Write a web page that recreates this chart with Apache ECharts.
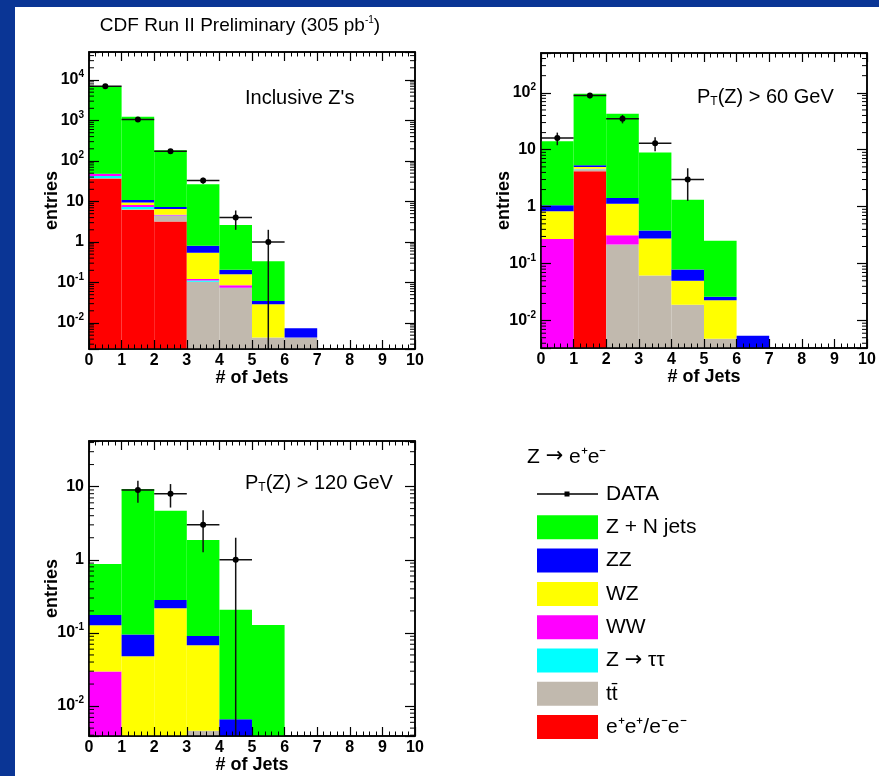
<!DOCTYPE html>
<html>
<head>
<meta charset="utf-8">
<script src="https://cdn.jsdelivr.net/npm/echarts@6/dist/echarts.min.js"></script>
<style>
html, body { margin: 0; padding: 0; background: #fff; }
#main { width: 879px; height: 776px; }
</style>
</head>
<body>
<div id="main"></div>
<script>
var chart_dom = document.getElementById("main");
var chart = echarts.init(chart_dom);
var font = "'Liberation Sans', Arial, Helvetica, sans-serif";

// processes, stacked bottom first
var procs = ["e⁺e⁺/e⁻e⁻", "tt\u0304", "Z → ττ", "WW", "WZ", "ZZ", "Z + N jets"];
var proc_colors = ['#ff0000', '#c1b9ae', '#00ffff', '#ff00ff', '#ffff00', '#0000ff', '#00ff00'];

// Inclusive Z's, entries per jet bin (0..9)
var incl_ss     = [37, 6.2, 3.2, 0, 0, 0, 0, 0, 0, 0];
var incl_tt     = [0.5, 0.2, 1.25, 0.105, 0.073, 0.0044, 0.0044, 0, 0, 0];
var incl_tautau = [5, 0.9, 0.05, 0.007, 0.001, 0, 0, 0, 0, 0];
var incl_ww     = [5, 0.9, 0.2, 0.01, 0.011, 0, 0, 0, 0, 0];
var incl_wz     = [0.3, 1.2, 1.85, 0.42, 0.075, 0.0246, 0, 0, 0, 0];
var incl_zz     = [0.3, 1.5, 0.8, 0.26, 0.045, 0.006, 0.003, 0, 0, 0];
var incl_zjets  = [6750, 1230, 178, 25.8, 2.43, 0.30, 0, 0, 0, 0];
var incl_data   = [6990, 1060, 174, 33, 4, 1, null, null, null, null];

// PT(Z) > 60 GeV
var pt60_ss     = [0, 4.2, 0, 0, 0, 0, 0, 0, 0, 0];
var pt60_tt     = [0, 0.35, 0.216, 0.062, 0.019, 0.0048, 0, 0, 0, 0];
var pt60_tautau = [0, 0.05, 0, 0, 0, 0, 0, 0, 0, 0];
var pt60_ww     = [0.27, 0.05, 0.1, 0, 0, 0, 0, 0, 0, 0];
var pt60_wz     = [0.56, 0.35, 0.81, 0.213, 0.031, 0.018, 0, 0, 0, 0];
var pt60_zz     = [0.23, 0.35, 0.3, 0.105, 0.0285, 0.0033, 0.0054, 0, 0, 0];
var pt60_zjets  = [13, 90.6, 41.6, 8.6, 1.25, 0.227, 0, 0, 0, 0];
var pt60_data   = [16, 90, 35, 13, 3, null, null, null, null, null];

// PT(Z) > 120 GeV
var pt120_ss     = [0, 0, 0, 0, 0, 0, 0, 0, 0, 0];
var pt120_tt     = [0, 0, 0, 0.0046, 0, 0, 0, 0, 0, 0];
var pt120_tautau = [0, 0, 0, 0, 0, 0, 0, 0, 0, 0];
var pt120_ww     = [0.0296, 0, 0, 0, 0, 0, 0, 0, 0, 0];
var pt120_wz     = [0.098, 0.048, 0.217, 0.063, 0, 0, 0, 0, 0, 0];
var pt120_zz     = [0.048, 0.047, 0.065, 0.023, 0.0066, 0, 0, 0, 0, 0];
var pt120_zjets  = [0.7, 9.2, 4.4, 1.77, 0.2, 0.128, 0, 0, 0, 0];
var pt120_data   = [null, 9, 8, 3, 1, null, null, null, null, null];

var x_ticks = [0, 1, 2, 3, 4, 5, 6, 7, 8, 9, 10];

var panels = [
    {grid: {left: 89, top: 52, width: 326, height: 297}, ymin: 0.00228, ymax: 49100,
     stack: [incl_ss, incl_tt, incl_tautau, incl_ww, incl_wz, incl_zz, incl_zjets], data: incl_data},
    {grid: {left: 541, top: 53, width: 326, height: 295}, ymin: 0.0033, ymax: 500,
     stack: [pt60_ss, pt60_tt, pt60_tautau, pt60_ww, pt60_wz, pt60_zz, pt60_zjets], data: pt60_data},
    {grid: {left: 89, top: 441, width: 326, height: 295}, ymin: 0.0039, ymax: 42,
     stack: [pt120_ss, pt120_tt, pt120_tautau, pt120_ww, pt120_wz, pt120_zz, pt120_zjets], data: pt120_data}
];

function renderBar(params, api) {
    var x0 = api.value(0);
    var p0 = api.coord([x0, api.value(1)]);
    var p1 = api.coord([x0 + 1, api.value(2)]);
    return {
        type: 'rect',
        shape: {x: p0[0], y: p1[1], width: p1[0] - p0[0], height: p0[1] - p1[1]},
        style: {fill: api.visual('color')}
    };
}

function renderData(params, api) {
    var x = api.value(0), y = api.value(1), e = api.value(2);
    var cs = params.coordSys;
    var c = api.coord([x, y]);
    var l = api.coord([x - 0.5, y]);
    var r = api.coord([x + 0.5, y]);
    var t = api.coord([x, y + e]);
    var b = (y - e) > 0 ? api.coord([x, y - e]) : [c[0], cs.y + cs.height];
    var ls = {stroke: '#111', lineWidth: 1.5};
    return {
        type: 'group',
        children: [
            {type: 'line', shape: {x1: l[0], y1: l[1], x2: r[0], y2: r[1]}, style: ls},
            {type: 'line', shape: {x1: t[0], y1: t[1], x2: b[0], y2: b[1]}, style: ls},
            {type: 'circle', shape: {cx: c[0], cy: c[1], r: 3}, style: {fill: '#000'}}
        ]
    };
}

function renderMinor(params, api) {
    var v = api.value(1);
    var pl = api.coord([0, v]);
    var pr = api.coord([10, v]);
    var ls = {stroke: '#000', lineWidth: 1};
    return {
        type: 'group',
        children: [
            {type: 'line', shape: {x1: pl[0], y1: pl[1], x2: pl[0] + 5, y2: pl[1]}, style: ls},
            {type: 'line', shape: {x1: pr[0], y1: pr[1], x2: pr[0] - 5, y2: pr[1]}, style: ls}
        ]
    };
}

function logLabel(value) {
    var lg = Math.log10(value);
    var e = Math.round(lg);
    if (Math.abs(lg - e) > 1e-6) return '';
    if (e === 0) return '{b|1}';
    if (e === 1) return '{b|10}';
    return '{b|10}{s|' + e + '}';
}

var grids = [], xAxes = [], yAxes = [], series = [];
var tick_line = {color: '#000', width: 1.2};

for (var p = 0; p < panels.length; p++) {
    var pn = panels[p];
    grids.push({left: pn.grid.left, top: pn.grid.top, width: pn.grid.width, height: pn.grid.height,
        show: true, borderColor: '#000', borderWidth: 1.5});
    // bottom + top x axes
    xAxes.push({
        gridIndex: p, type: 'value', min: x_ticks[0], max: x_ticks[x_ticks.length - 1], interval: 1,
        position: 'bottom', z: 10,
        axisLine: {show: true, onZero: false, lineStyle: {color: '#000', width: 1.5}},
        axisTick: {show: true, inside: true, length: 9, lineStyle: tick_line},
        minorTick: {show: true, splitNumber: 5, length: 4.5, lineStyle: {color: '#000', width: 1}},
        splitLine: {show: false},
        axisLabel: {color: '#000', fontSize: 16, fontWeight: 'bold', fontFamily: font, margin: 4},
        name: '# of Jets', nameLocation: 'middle', nameGap: 20, nameMoveOverlap: false,
        nameTextStyle: {color: '#000', fontSize: 18, fontWeight: 'bold', fontFamily: font}
    });
    xAxes.push({
        gridIndex: p, type: 'value', min: x_ticks[0], max: x_ticks[x_ticks.length - 1], interval: 1,
        position: 'top', z: 10,
        axisLine: {show: true, onZero: false, lineStyle: {color: '#000', width: 1.5}},
        axisTick: {show: true, inside: true, length: 9, lineStyle: tick_line},
        minorTick: {show: true, splitNumber: 5, length: 4.5, lineStyle: {color: '#000', width: 1}},
        splitLine: {show: false},
        axisLabel: {show: false}
    });
    yAxes.push({
        gridIndex: p, type: 'log', logBase: 10, min: pn.ymin, max: pn.ymax, splitNumber: 8,
        position: 'left', z: 10,
        axisLine: {show: true, onZero: false, lineStyle: {color: '#000', width: 1.5}},
        axisTick: {show: true, inside: true, length: 10, lineStyle: tick_line},
        splitLine: {show: false},
        axisLabel: {
            color: '#000', fontFamily: font, margin: 5, formatter: logLabel,
            rich: {
                b: {fontSize: 16, fontWeight: 'bold', fontFamily: font, color: '#000'},
                s: {fontSize: 10, fontWeight: 'bold', fontFamily: font, color: '#000', padding: [0, 0, 11, 0]}
            }
        },
        name: 'entries', nameLocation: 'middle', nameGap: 28, nameMoveOverlap: false,
        nameTextStyle: {color: '#000', fontSize: 18, fontWeight: 'bold', fontFamily: font}
    });
    yAxes.push({
        gridIndex: p, type: 'log', logBase: 10, min: pn.ymin, max: pn.ymax, splitNumber: 8,
        position: 'right', z: 10,
        axisLine: {show: true, onZero: false, lineStyle: {color: '#000', width: 1.5}},
        axisTick: {show: true, inside: true, length: 10, lineStyle: tick_line},
        splitLine: {show: false},
        axisLabel: {show: false}
    });

    // stacked histogram
    var base = [0, 0, 0, 0, 0, 0, 0, 0, 0, 0];
    for (var k = 0; k < procs.length; k++) {
        var items = [];
        var vals = pn.stack[k];
        for (var b = 0; b < vals.length; b++) {
            if (vals[b] > 0) {
                items.push([b, Math.max(base[b], pn.ymin), base[b] + vals[b]]);
                base[b] += vals[b];
            }
        }
        series.push({
            type: 'custom', name: procs[k], xAxisIndex: 2 * p, yAxisIndex: 2 * p,
            clip: true, itemStyle: {color: proc_colors[k]},
            encode: {x: 0, y: [1, 2]},
            renderItem: renderBar, data: items, z: 2
        });
    }

    // data points with sqrt(N) errors
    var pts = [];
    for (var b = 0; b < pn.data.length; b++) {
        if (pn.data[b] != null) pts.push([b + 0.5, pn.data[b], Math.sqrt(pn.data[b])]);
    }
    series.push({
        type: 'custom', name: 'DATA', xAxisIndex: 2 * p, yAxisIndex: 2 * p,
        clip: true, itemStyle: {color: '#000'}, encode: {x: 0, y: 1},
        renderItem: renderData, data: pts, z: 5
    });

    // minor log ticks (2..9 x 10^n)
    var minor = [];
    for (var n = Math.floor(Math.log10(pn.ymin)); n <= Math.ceil(Math.log10(pn.ymax)); n++) {
        for (var m = 2; m <= 9; m++) {
            var v = m * Math.pow(10, n);
            if (v > pn.ymin && v < pn.ymax) minor.push([0, v]);
        }
    }
    series.push({
        type: 'custom', name: 'minor' + p, xAxisIndex: 2 * p, yAxisIndex: 2 * p,
        encode: {x: 0, y: 1}, renderItem: renderMinor, data: minor, z: 12, silent: true
    });
}

var legend_names = ['DATA'].concat(procs.slice().reverse());

var option = {
    animation: false,
    backgroundColor: '#fff',
    grid: grids,
    xAxis: xAxes,
    yAxis: yAxes,
    series: series,
    legend: {
        data: legend_names.map(function (nm) {
            if (nm === 'DATA') {
                return {name: nm, icon: 'path://M0,0h0.1v0.1h-0.1z M0,11.25h61v1.5h-61z M27.5,9.5h5v5h-5z M60.9,23.9h0.1v0.1h-0.1z'};
            }
            return {name: nm, icon: 'rect'};
        }),
        orient: 'vertical', left: 532, top: 477,
        itemWidth: 61, itemHeight: 24, itemGap: 9.3,
        selectedMode: false,
        formatter: function (nm) {
            if (nm.indexOf('→') >= 0) return '{a|Z }{r|→}{a| ττ}';
            return '{a|' + nm + '}';
        },
        textStyle: {
            color: '#000', fontSize: 21, fontFamily: font, padding: [0, 0, 0, 3],
            rich: {
                a: {fontSize: 21, fontFamily: font, color: '#000'},
                r: {fontSize: 21, fontFamily: "'DejaVu Sans', sans-serif", color: '#000'}
            }
        }
    },
    graphic: [
        {type: 'rect', left: 0, top: 0, shape: {width: 15, height: 776}, style: {fill: '#0a3595'}},
        {type: 'rect', left: 0, top: 0, shape: {width: 879, height: 7}, style: {fill: '#0a3595'}},
        {type: 'text', x: 240, y: 26, style: {
            text: '{a|CDF Run II Preliminary (305 pb}{s|-1}{a|)}', align: 'center', verticalAlign: 'middle',
            rich: {a: {fontSize: 19, fontFamily: font, fill: '#000'},
                   s: {fontSize: 10, fontFamily: font, fill: '#000', padding: [0, 0, 11, 0]}}}},
        {type: 'text', x: 245, y: 98, style: {
            text: "Inclusive Z's", font: '20px ' + font, fill: '#000', verticalAlign: 'middle'}},
        {type: 'text', x: 697, y: 97, style: {
            text: '{a|P}{t|T}{a|(Z) > 60 GeV}', verticalAlign: 'middle',
            rich: {a: {fontSize: 20, fontFamily: font, fill: '#000'},
                   t: {fontSize: 12, fontFamily: font, fill: '#000', padding: [10, 0, 0, 0]}}}},
        {type: 'text', x: 245, y: 483, style: {
            text: '{a|P}{t|T}{a|(Z) > 120 GeV}', verticalAlign: 'middle',
            rich: {a: {fontSize: 20, fontFamily: font, fill: '#000'},
                   t: {fontSize: 12, fontFamily: font, fill: '#000', padding: [10, 0, 0, 0]}}}},
        {type: 'text', x: 527, y: 457, style: {
            text: '{a|Z }{r|→}{a| e⁺e⁻}', verticalAlign: 'middle',
            rich: {a: {fontSize: 21, fontFamily: font, fill: '#000'},
                   r: {fontSize: 21, fontFamily: "'DejaVu Sans', sans-serif", fill: '#000'}}}}
    ]
};

chart.setOption(option);
</script>
</body>
</html>
